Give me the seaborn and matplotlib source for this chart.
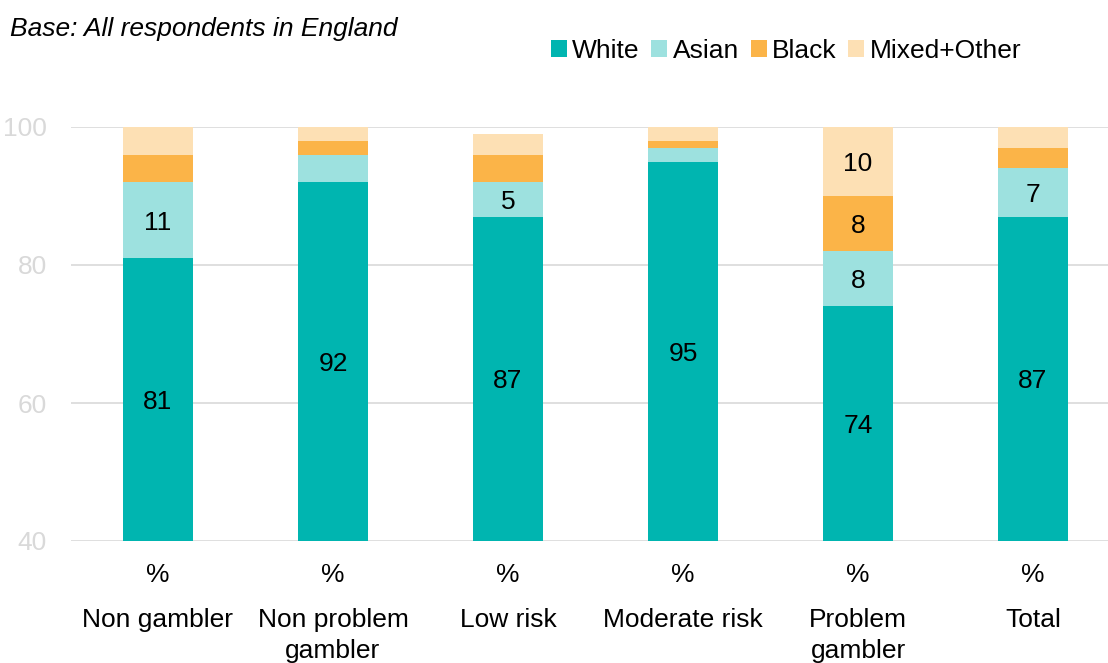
import matplotlib
matplotlib.use("Agg")
import matplotlib.pyplot as plt
import matplotlib.transforms as mtransforms
from matplotlib.patches import Patch
import seaborn as sns
import numpy as np
import pandas as pd

categories = ["Non gambler", "Non problem\ngambler", "Low risk", "Moderate risk", "Problem\ngambler", "Total"]
white = [81, 92, 87, 95, 74, 87]
asian = [11, 4, 5, 2, 8, 7]
black = [4, 2, 4, 1, 8, 3]
mixed = [4, 2, 3, 2, 10, 3]
series_names = ["White", "Asian", "Black", "Mixed+Other"]
colors = ["#00B5B0", "#9DE1DF", "#FBB448", "#FDE0B4"]
yticks = [40, 60, 80, 100]

sns.set_theme(style="white")
plt.rcParams["font.family"] = ["Liberation Sans", "DejaVu Sans"]
plt.rcParams["text.color"] = "black"
plt.rcParams["xtick.color"] = "black"
FS = 19

fig = plt.figure(figsize=(11.08, 6.63), dpi=100)
ax = fig.add_axes([70.5 / 1108, (663 - 541) / 663, 1050 / 1108, 414 / 663])

series = [white, asian, black, mixed]
cums = np.cumsum(np.array(series), axis=0)
df_x = list(range(len(categories)))
ymin, ymax = yticks[0], yticks[-1]

# draw from top layer down so lower layers overlap
for i in range(len(series) - 1, -1, -1):
    d = pd.DataFrame({"x": df_x, "y": cums[i]})
    sns.barplot(data=d, x="x", y="y", color=colors[i], width=0.4, ax=ax,
                saturation=1, linewidth=0, order=df_x)

for i, s in enumerate(series):
    for j, v in enumerate(s):
        if v >= 5:
            top = cums[i][j]
            bottom = max(top - v, ymin)
            ax.text(j, (top + bottom) / 2, str(v), ha="center", va="center_baseline",
                    fontsize=FS, color="black")

ax.set_xlim(-0.5, 5.5)
ax.set_ylim(ymin, ymax)
ax.set_yticks(yticks)
ax.set_yticklabels([str(t) for t in yticks], fontsize=FS, color="#D9D9D9")
ax.tick_params(axis="y", length=0, pad=17)
for t in yticks:
    ax.axhline(t, color="#D9D9D9", linewidth=1.2, zorder=0)
ax.set_xticks(df_x)
ax.set_xticklabels(["%"] * len(categories), fontsize=FS, color="black")
ax.tick_params(axis="x", length=0, pad=16)
ax.set_xlabel("")
ax.set_ylabel("")
for sp in ax.spines.values():
    sp.set_visible(False)

trans = mtransforms.blended_transform_factory(ax.transData, fig.transFigure)
for j, c in enumerate(categories):
    ax.text(j, 1 - 608 / 663, c, transform=trans, ha="center", va="top",
            fontsize=FS, linespacing=1.35, clip_on=False, color="black")

fig.text(10 / 1108, 1 - 29 / 663, "Base: All respondents in England", fontsize=FS,
         style="italic", va="center", ha="left", color="black")

handles = [Patch(facecolor=c, edgecolor="none") for c in colors]
fig.legend(handles, series_names, loc="center left", bbox_to_anchor=(551 / 1108, 1 - 51 / 663),
           ncol=4, frameon=False, fontsize=FS, handlelength=0.6, handleheight=0.6,
           handletextpad=0.2, columnspacing=0.45, borderaxespad=0, borderpad=0,
           labelcolor="black")

fig.savefig("out.png", dpi=100)
